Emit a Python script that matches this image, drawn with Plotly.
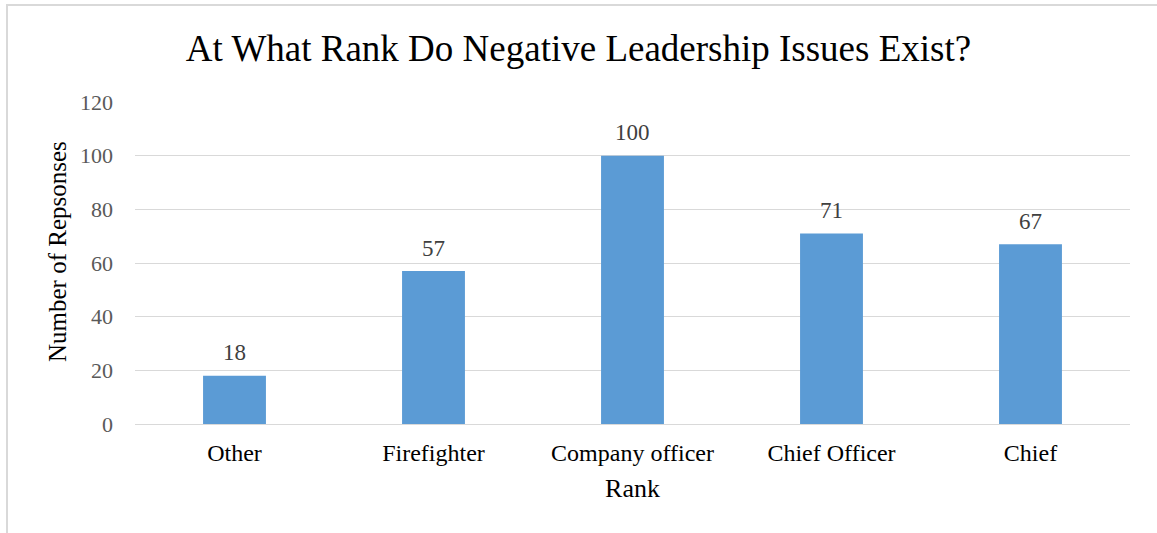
import plotly.graph_objects as go

ranks = ["Other", "Firefighter", "Company officer", "Chief Officer", "Chief"]
responses = [18, 57, 100, 71, 67]
y_ticks = [0, 20, 40, 60, 80, 100, 120]

SERIF = "Liberation Serif"

fig = go.Figure(
    go.Bar(
        x=ranks,
        y=responses,
        marker=dict(color="#5B9BD5", line=dict(width=0)),
        hoverinfo="x+y",
    )
)

# value labels sit above each bar
for rank, value in zip(ranks, responses):
    fig.add_annotation(
        x=rank,
        y=value,
        text=str(value),
        showarrow=False,
        yanchor="middle",
        yshift=23,
        font=dict(family=SERIF, size=23, color="#404040"),
    )

# vertical axis title, placed slightly above the plot's middle
fig.add_annotation(
    text="Number of Repsonses",
    xref="paper",
    yref="paper",
    x=(57 - 135) / 995,
    y=(424 - 252) / 322,
    xanchor="center",
    yanchor="middle",
    textangle=-90,
    showarrow=False,
    font=dict(family=SERIF, size=25, color="#000000"),
)

fig.update_layout(
    width=1157,
    height=533,
    margin=dict(l=135, r=27, t=102, b=109),
    paper_bgcolor="white",
    plot_bgcolor="white",
    bargap=0.684,
    showlegend=False,
    font=dict(family=SERIF),
    title=dict(
        text="At What Rank Do Negative Leadership Issues Exist?",
        x=0.5,
        xanchor="center",
        y=1 - 48 / 533,
        yanchor="middle",
        font=dict(family=SERIF, size=37, color="#000000"),
    ),
    xaxis=dict(
        title=dict(text="Rank", font=dict(family=SERIF, size=26, color="#000000"), standoff=13),
        tickfont=dict(family=SERIF, size=24, color="#000000"),
        ticklabelstandoff=12,
        showline=False,
        ticks="",
        showgrid=False,
    ),
    yaxis=dict(
        range=[0, 120],
        tickvals=y_ticks,
        tickfont=dict(family=SERIF, size=22, color="#595959"),
        ticklabelstandoff=21,
        gridcolor="#D9D9D9",
        gridwidth=1,
        zeroline=True,
        zerolinecolor="#D9D9D9",
        zerolinewidth=1,
        showline=False,
        ticks="",
    ),
    shapes=[
        dict(
            type="rect",
            xref="paper",
            yref="paper",
            x0=-128 / 995,
            x1=1.2,
            y0=-0.5,
            y1=1 + 97 / 322,
            line=dict(color="#D9D9D9", width=2),
            fillcolor="rgba(0,0,0,0)",
            layer="below",
        )
    ],
)

fig.write_html("out.html")
